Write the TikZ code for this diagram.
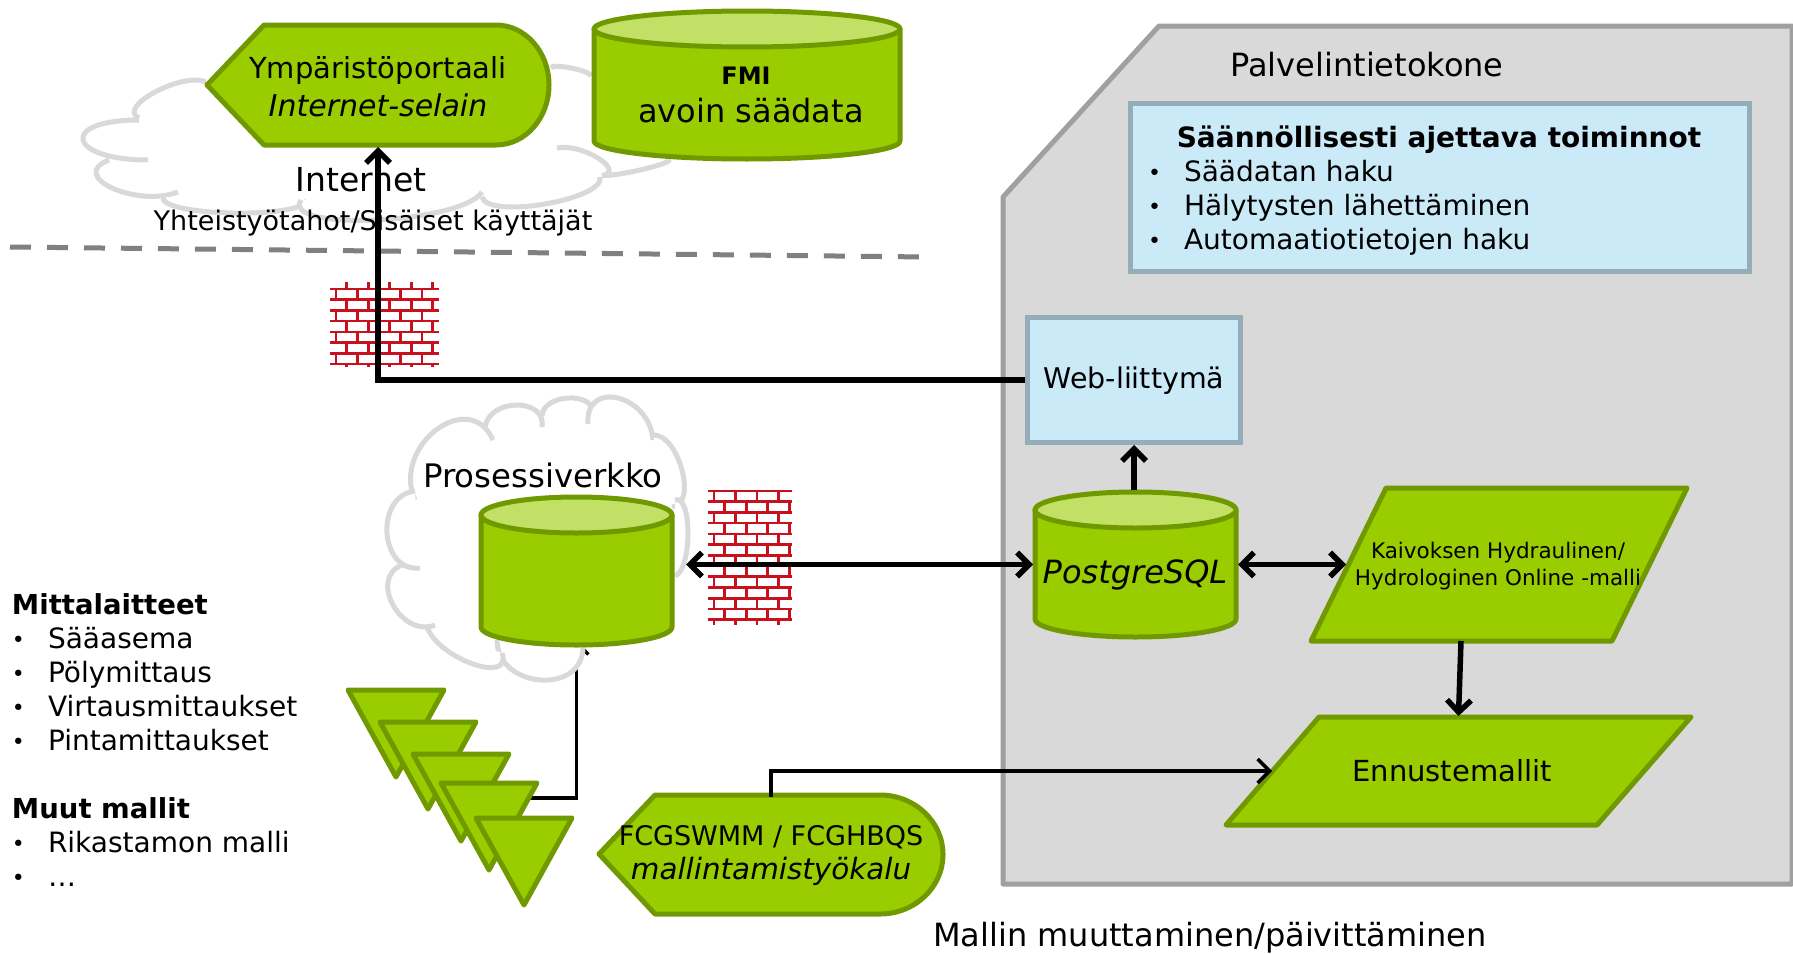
\documentclass[tikz,border=0pt]{standalone}
\usepackage{fontspec}
\setmainfont{DejaVu Sans}
\usetikzlibrary{arrows.meta,backgrounds}
\definecolor{mygreen}{RGB}{154,205,0}
\definecolor{mydarkgreen}{RGB}{112,153,0}
\definecolor{mylightgreen}{RGB}{194,224,102}
\definecolor{myblue}{RGB}{203,234,248}
\definecolor{mybluegrey}{RGB}{149,173,185}
\definecolor{mypanel}{RGB}{217,217,217}
\definecolor{mypanelline}{RGB}{160,160,160}
\definecolor{mycloud}{RGB}{217,217,217}
\definecolor{mybrick}{RGB}{200,16,30}
\newcommand{\sz}[1]{\fontsize{#1}{#1}\selectfont}
\newcommand{\bul}{\makebox[36pt][l]{\sz{22}\raisebox{1pt}{•}}}
\newcommand{\dbcyl}[6]{% name, left, top, right, bottom, text
    \pgfmathsetmacro{\cx}{(#2+#4)/2}
    \pgfmathsetmacro{\rx}{(#4-#2)/2}
    \draw[greenshape] (#2,#3+18) -- (#2,#5-18) arc[start angle=180, end angle=360, x radius=\rx pt, y radius=18pt] -- (#4,#3+18) -- cycle;
    \draw[greenshape, fill=mylightgreen] (\cx,#3+18) ellipse[x radius=\rx pt, y radius=18pt];
    \node[minimum width=#4-#2, minimum height=#5-#3, outer sep=2pt] (#1) at (\cx,{(#3+#5)/2}) {};
    #6
}
\newcommand{\brickwall}[5]{% left, top, right, bottom, first line
    \begin{scope}
        \clip (#1,#2) rectangle (#3,#4);
        \foreach \r in {-1,...,13} {
            \pgfmathsetmacro{\ry}{#5+10.72*\r}
            \draw[brick] (#1,\ry) -- (#3,\ry);
            \foreach \c in {-1,...,5} {
                \pgfmathsetmacro{\rx}{#1+6+21.5*\c+10.75*mod(\r+2,2)}
                \draw[brick] (\rx,\ry) -- (\rx,\ry+10.72);
            }
        }
    \end{scope}
}
\tikzset{
    greenshape/.style={draw=mydarkgreen, fill=mygreen, line width=5pt, line join=round},
    bluebox/.style={draw=mybluegrey, fill=myblue, line width=5pt},
    cloudline/.style={draw=mycloud, line width=5pt, fill=white},
    brick/.style={draw=mybrick, line width=2.6pt},
    plain/.style={inner sep=0pt, outer sep=0pt},
    wire/.style={draw=black, line width=5.5pt},
    thinwire/.style={draw=black, line width=3.5pt}
}
\begin{document}
\begin{tikzpicture}[x=1pt, y=-1pt, >={Straight Barb[length=12pt, width=24pt]}]
    \useasboundingbox (0,0) rectangle (1793,953);

    % internet cloud
    \foreach \ax/\ay/\vx/\vy/\bx/\by in {
        206/82/155/92/139/118, 139/120/83/140/148/160, 109/160/112/188/178/192,
        163/197/232/213/307/200, 301/200/376/220/482/192, 482/197/545/204/600/177,
        557/148/598/158/602/176, 602/175/640/170/668/160, 551/68/571/68/591/76} {
        \draw[cloudline] (\ax,\ay) .. controls ({\ax+4/3*(\vx-(\ax+\bx)/2)},{\ay+4/3*(\vy-(\ay+\by)/2)}) and ({\bx+4/3*(\vx-(\ax+\bx)/2)},{\by+4/3*(\vy-(\ay+\by)/2)}) .. (\bx,\by);
    }

    % process cloud
    \fill[white] (415,500) -- (460,424) -- (568,398) -- (653,440) -- (688,533) -- (675,576) -- (583,647) -- (540,680) -- (473,664) -- (393,591) -- (387,533) -- cycle;
    \foreach \ax/\ay/\vx/\vy/\bx/\by in {
        415/500/436/430/493/440, 485/427/517/405/542/427, 542/416/568/398/593/413,
        588/424/618/398/653/440, 653/435/682/470/672/507, 675/500/688/533/675/576,
        583/647/540/680/497/640, 502/653/473/664/427/627, 435/625/393/605/402/565,
        420/568/387/533/415/491} {
        \draw[cloudline] (\ax,\ay) .. controls ({\ax+4/3*(\vx-(\ax+\bx)/2)},{\ay+4/3*(\vy-(\ay+\by)/2)}) and ({\bx+4/3*(\vx-(\ax+\bx)/2)},{\by+4/3*(\vy-(\ay+\by)/2)}) .. (\bx,\by);
    }

    \draw[draw=gray, line width=5pt, dash pattern=on 21pt off 16pt] (10,247) -- (927,257);

    \node[plain, font=\sz{33}] (internet) at (361,180) {Internet};
    \node[plain, font=\sz{27}] (partners) at (373,223) {Yhteistyötahot/Sisäiset käyttäjät};
    \node[plain, font=\sz{32.4}] (procnet) at (543,475) {Prosessiverkko};

    % portal
    \draw[greenshape] (207,85) -- (264,25) -- (496,25) arc[start angle=90, end angle=-90, x radius=53pt, y radius=60pt] -- (264,145) -- cycle;
    \node[plain, minimum height=120pt, align=center, font=\sz{29}] (portal) at (378,87) {Ympäristöportaali\\[9pt]\sz{30}\itshape Internet-selain};

    \dbcyl{fmi}{594}{11}{900}{159}{\node[plain, font=\sz{24}\bfseries] (fmitop) at (746,76) {FMI};
        \node[plain, font=\sz{32}] (fmibottom) at (751,111) {avoin säädata};}

    \dbcyl{procdb}{481}{497}{672}{645}{}

    \brickwall{330}{282}{439}{366}{289}
    \brickwall{708}{490}{792}{624}{491}

    % server
    \draw[draw=mypanelline, fill=mypanel, line width=5pt, line join=round] (1159,26) -- (1792,26) -- (1792,884) -- (1003,884) -- (1003,197) -- cycle;
    \node[plain, font=\sz{32}] (server) at (1367,65) {Palvelintietokone};
    \node[bluebox, minimum width=619pt, minimum height=168pt, anchor=north west] (jobs) at (1128,101) {};
    \node[plain, font=\sz{28}\bfseries] (jobstitle) at (1439,140) {Säännöllisesti ajettava toiminnot};
    \node[plain, font=\sz{28}, anchor=base west] (job1) at (1148,181) {\bul Säädatan haku};
    \node[plain, font=\sz{28}, anchor=base west] (job2) at (1148,215) {\bul Hälytysten lähettäminen};
    \node[plain, font=\sz{28}, anchor=base west] (job3) at (1148,249) {\bul Automaatiotietojen haku};
    \node[bluebox, minimum width=213pt, minimum height=125pt, anchor=north west] (web) at (1025,315) {};
    \node[plain, font=\sz{28.5}] (webtext) at (1134,381) {Web-liittymä};

    \dbcyl{pg}{1035}{492}{1236}{637}{\node[plain, font=\sz{32}\itshape] (pgtext) at (1135,575) {PostgreSQL};}

    % models
    \draw[greenshape] (1386,488) -- (1687,488) -- (1612,641) -- (1311,641) -- cycle;
    \node[plain, align=center, font=\sz{21.5}] (hydro) at (1498,566) {Kaivoksen Hydraulinen/\\[5pt]Hydrologinen Online -malli};
    \coordinate (hydroleft) at (1346,564);
    \coordinate (hydrobottom) at (1461,641);
    \draw[greenshape] (1319,717) -- (1691,717) -- (1597,825) -- (1226,825) -- cycle;
    \node[plain, font=\sz{29}] (forecast) at (1452,771) {Ennustemallit};
    \coordinate (forecastleft) at (1272,771);
    \coordinate (forecasttop) at (1458.5,716);

    % sensors
    \foreach \x/\y [count=\i] in {348/690, 380/722, 413/754, 441/783, 476/818} {
        \draw[greenshape] (\x,\y) -- (\x+96,\y) -- (\x+48,\y+87) -- cycle;
        \coordinate (sensor\i) at (\x+47,\y+15);
    }

    % tool
    \draw[greenshape] (599,854) -- (655,795) -- (880,795) arc[start angle=90, end angle=-90, x radius=63pt, y radius=59.5pt] -- (655,914) -- cycle;
    \node[plain, minimum height=119pt, align=center, font=\sz{27}] (tool) at (771,856) {FCGSWMM / FCGHBQS\\[7pt]\sz{29.4}\itshape mallintamistyökalu};

    \node[plain, anchor=north west, align=left, font=\sz{28}] (devices) at (12,594) {\textbf{\sz{27.5}Mittalaitteet}\\[6pt]\bul Sääasema\\[6pt]\bul Pölymittaus\\[6pt]\bul Virtausmittaukset\\[6pt]\bul Pintamittaukset\\[6pt]\mbox{}\\[6pt]\textbf{\sz{27.5}Muut mallit}\\[6pt]\bul Rikastamon malli\\[6pt]\bul …};
    \node[plain, font=\sz{32}] (change) at (1210,938) {Mallin muuttaminen/päivittäminen};

    % connectors
    \draw[wire, ->] (web.west) -| (portal.south);
    \draw[wire, <->, shorten <=12pt] (procdb.east |- pg.west) -- (pg.west);
    \draw[wire, <->] (pg.east) -- (pg.east -| hydroleft);
    \draw[wire, ->] (web.south |- pg.north) -- (web.south);
    \draw[wire, ->] (hydrobottom) -- (forecasttop);
    \draw[thinwire, ->] (tool.north) |- (forecastleft);
    \begin{scope}[on background layer]
        \draw[thinwire, ->, shorten >=-7pt] (sensor4) -| (procdb.south);
    \end{scope}
\end{tikzpicture}
\end{document}
